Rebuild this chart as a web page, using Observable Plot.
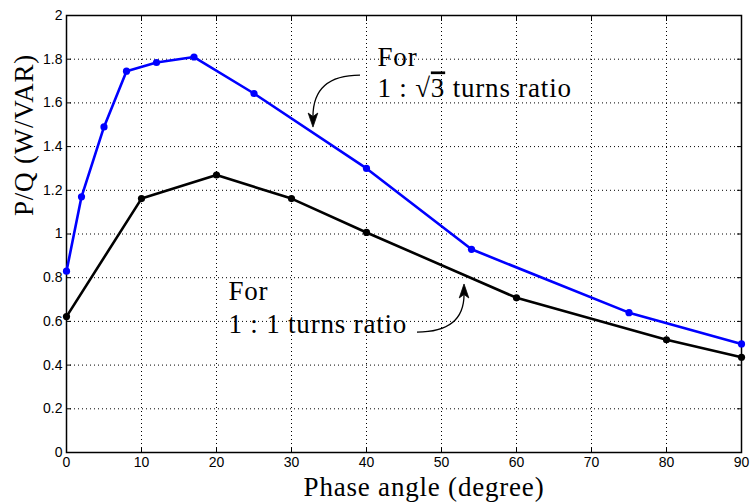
<!DOCTYPE html>
<html>
<head>
<meta charset="utf-8">
<script src="https://cdn.jsdelivr.net/npm/d3@7"></script>
<script src="https://cdn.jsdelivr.net/npm/@observablehq/plot@0.6"></script>
<style>
body { margin: 0; background: #fff; }
</style>
</head>
<body>
<div id="chart"></div>
<script>
// Data
const blueX = [0, 2, 5, 8, 12, 17, 25, 40, 54, 75, 90];
const blueY = [0.83, 1.17, 1.49, 1.745, 1.785, 1.81, 1.643, 1.30, 0.93, 0.64, 0.497];
const blackX = [0, 10, 20, 30, 40, 60, 80, 90];
const blackY = [0.622, 1.162, 1.27, 1.162, 1.007, 0.708, 0.516, 0.436];
const xTicks = [0, 10, 20, 30, 40, 50, 60, 70, 80, 90];
const yTicks = [0, 0.2, 0.4, 0.6, 0.8, 1, 1.2, 1.4, 1.6, 1.8, 2];

// Annotations (data units)
const labels = [
  {x: 41.47, y: 1.771, text: "For"},
  {x: 41.47, y: 1.625, text: "1 : √3 turns ratio"},
  {x: 21.6, y: 0.700, text: "For"},
  {x: 21.6, y: 0.549, text: "1 : 1 turns ratio"}
];
const arrows = [
  {x1: 39.2, y1: 1.725, x2: 32.93, y2: 1.487},
  {x1: 46.8, y1: 0.549, x2: 53.07, y2: 0.769}
];
const xTitle = "Phase angle (degree)";
const yTitle = "P/Q (W/VAR)";

const blue = blueX.map((x, i) => ({x, y: blueY[i]}));
const black = blackX.map((x, i) => ({x, y: blackY[i]}));

const SANS = "Liberation Sans";
const SERIF = "Liberation Serif";

// Curved arrows with filled heads, positioned through the plot's scales
function curvedArrows(index, scales) {
  const X = scales.x, Y = scales.y;
  const g = d3.create("svg:g");
  for (const a of arrows) {
    const x1 = X(a.x1), y1 = Y(a.y1), x2 = X(a.x2), y2 = Y(a.y2);
    const cx = x2, cy = y1; // corner control point
    let dx = x2 - cx, dy = y2 - cy;
    const len = Math.hypot(dx, dy) || 1;
    dx /= len; dy /= len;
    const hl = 14, hw = 4.8;
    const bx = x2 - dx * hl, by = y2 - dy * hl;
    const nx = -dy, ny = dx;
    const mx = x2 - dx * hl * 0.75, my = y2 - dy * hl * 0.75;
    g.append("path")
      .attr("d", `M${x1},${y1}Q${cx},${cy} ${mx},${my}`)
      .attr("fill", "none").attr("stroke", "#000").attr("stroke-width", 1.3);
    g.append("path")
      .attr("d", `M${x2},${y2}L${bx + nx * hw},${by + ny * hw}L${mx},${my}L${bx - nx * hw},${by - ny * hw}Z`)
      .attr("fill", "#000").attr("stroke", "#000").attr("stroke-width", 0.8).attr("stroke-linejoin", "miter");
  }
  return g.node();
}

const plot = Plot.plot({
  width: 751,
  height: 503,
  marginLeft: 66,
  marginTop: 15,
  marginRight: 10,
  marginBottom: 51,
  style: {color: "#000", background: "#fff"},
  x: {domain: [0, 90]},
  y: {domain: [0, 2]},
  marks: [
    Plot.gridX(xTicks, {stroke: "#000", strokeOpacity: 1, strokeWidth: 1, strokeDasharray: "1,3"}),
    Plot.gridY(yTicks, {stroke: "#000", strokeOpacity: 1, strokeWidth: 1, strokeDasharray: "1,3"}),
    Plot.axisX({ticks: xTicks, tickSize: -5, tickPadding: 10, stroke: "#000", fontSize: 14, fontFamily: SANS, label: null, tickFormat: d => String(d)}),
    Plot.axisX({anchor: "top", ticks: xTicks, tickSize: -5, text: null, label: null}),
    Plot.axisY({ticks: yTicks, tickSize: -5, tickPadding: 9, fontSize: 14, fontFamily: SANS, label: null, tickFormat: d => String(+d.toFixed(1))}),
    Plot.axisY({anchor: "right", ticks: yTicks, tickSize: -5, text: null, label: null}),
    Plot.frame({stroke: "#000", strokeWidth: 1.5}),
    Plot.line(black, {x: "x", y: "y", stroke: "#000", strokeWidth: 2.6}),
    Plot.dot(black, {x: "x", y: "y", fill: "#000", r: 3.6}),
    Plot.line(blue, {x: "x", y: "y", stroke: "#0000ff", strokeWidth: 2.6}),
    Plot.dot(blue, {x: "x", y: "y", fill: "#0000ff", r: 3.6}),
    curvedArrows,
    Plot.text(labels, {x: "x", y: "y", text: "text", textAnchor: "start", lineAnchor: "bottom", fontSize: 27, fontFamily: SERIF, fill: "#000"}),
    Plot.text([xTitle], {frameAnchor: "bottom", dx: 20, dy: 43, text: d => d, fontSize: 27, fontFamily: SERIF, fill: "#000", lineAnchor: "bottom"}),
    Plot.text([yTitle], {frameAnchor: "left", dx: -34, dy: -18, rotate: -90, text: d => d, fontSize: 27, fontFamily: SERIF, fill: "#000", lineAnchor: "bottom"})
  ]
});
document.getElementById("chart").appendChild(plot);

d3.select(plot).selectAll("text").each(function() {
  const s = this.textContent;
  const t = d3.select(this);
  if ([...labels.map(d => d.text), xTitle, yTitle].includes(s)) t.attr("letter-spacing", "0.8");
  if (s === "1 : √3 turns ratio") {
    t.text(null);
    t.append("tspan").text("1 : √");
    t.append("tspan").attr("text-decoration", "overline").text("3");
    t.append("tspan").text(" turns ratio");
  }
});
</script>
</body>
</html>
